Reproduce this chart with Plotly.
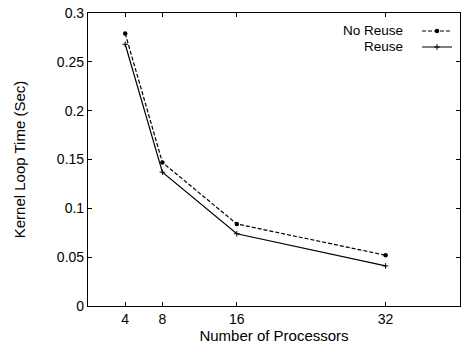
import plotly.graph_objects as go

processors = [4, 8, 16, 32]
no_reuse = [0.279, 0.147, 0.084, 0.052]
reuse = [0.268, 0.137, 0.074, 0.041]
x_ticks = [4, 8, 16, 32]
y_ticks = [0, 0.05, 0.1, 0.15, 0.2, 0.25, 0.3]
y_tick_text = ["0", "0.05", "0.1", "0.15", "0.2", "0.25", "0.3"]
series_names = ["No Reuse", "Reuse"]

font = "Liberation Sans, Arial, sans-serif"

fig = go.Figure()
fig.add_trace(go.Scatter(
    x=processors, y=no_reuse, mode="lines+markers", name=" ",
    legend="legend",
    line=dict(color="black", width=1.2, dash="4px,2px"),
    marker=dict(symbol="circle", size=4.5, color="black"),
))
fig.add_trace(go.Scatter(
    x=processors, y=reuse, mode="lines+markers", name=" ",
    legend="legend2",
    line=dict(color="black", width=1.2),
    marker=dict(symbol="cross-thin", size=4, color="black", line=dict(color="black", width=1)),
))

row_y = [0.9386, 0.884]
for i, name in enumerate(series_names):
    fig.add_annotation(
        x=0.851, y=row_y[i], xref="paper", yref="paper",
        xanchor="right", yanchor="middle", showarrow=False,
        text=name, font=dict(family=font, size=13.5, color="black"),
    )

leg_common = dict(
    x=0.885, xanchor="left", yanchor="middle",
    bgcolor="rgba(0,0,0,0)", borderwidth=0,
    itemwidth=30, font=dict(family=font, size=10),
)

fig.update_layout(
    width=465, height=345,
    margin=dict(l=88, r=0, t=13, b=39),
    paper_bgcolor="white", plot_bgcolor="white",
    font=dict(family=font, size=14, color="black"),
    showlegend=True,
    legend=dict(y=row_y[0], **leg_common),
    legend2=dict(y=row_y[1], **leg_common),
    xaxis=dict(
        range=[0, 40], tickvals=x_ticks, ticktext=[str(v) for v in x_ticks],
        ticks="inside", ticklen=4, tickcolor="black", tickwidth=1,
        showline=True, linecolor="black", linewidth=1.2, mirror="ticks",
        showgrid=False, zeroline=False,
        title=dict(text="Number of Processors", standoff=0, font=dict(size=15)),
        tickfont=dict(size=14),
    ),
    yaxis=dict(
        range=[0, 0.3], tickvals=y_ticks, ticktext=y_tick_text,
        ticks="inside", ticklen=4, tickcolor="black", tickwidth=1,
        showline=True, linecolor="black", linewidth=1.2, mirror="ticks",
        showgrid=False, zeroline=False,
        title=dict(text="Kernel Loop Time (Sec)", standoff=27, font=dict(size=15)),
        tickfont=dict(size=14),
    ),
)

fig.write_html("out.html")
